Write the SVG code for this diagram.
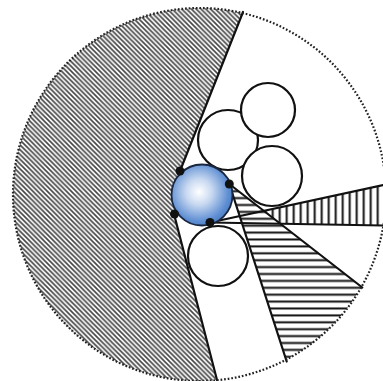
<svg xmlns="http://www.w3.org/2000/svg" width="383" height="381" viewBox="0 0 383 381">
  <defs>
    <style>
      .edge { stroke: #111; stroke-width: 2.2; fill: none; stroke-linecap: round; }
      .ball { fill: #fff; stroke: #111; stroke-width: 2.2; }
      .dot { fill: #111; }
    </style>
    <clipPath id="bigClip">
      <circle cx="199.5" cy="194.5" r="186.5"/>
    </clipPath>
    <pattern id="diag" patternUnits="userSpaceOnUse" width="4.8" height="4.8">
      <path d="M-1,-1 L5.8,5.8 M-1,3.8 L1,5.8 M3.8,-1 L5.8,1" stroke="#444" stroke-width="1.6"/>
    </pattern>
    <pattern id="horiz" patternUnits="userSpaceOnUse" x="0" y="1.5" width="10" height="6.9">
      <rect x="0" y="0" width="10" height="6.9" fill="#fff"/>
      <line x1="-1" y1="3.4" x2="11" y2="3.4" stroke="#111" stroke-width="2"/>
    </pattern>
    <pattern id="vert" patternUnits="userSpaceOnUse" x="3.2" y="0" width="7" height="10">
      <rect x="0" y="0" width="7" height="10" fill="#fff"/>
      <line x1="3.5" y1="-1" x2="3.5" y2="11" stroke="#111" stroke-width="2"/>
    </pattern>
    <radialGradient id="blueGrad" cx="0.45" cy="0.45" r="0.6">
      <stop offset="0" stop-color="#ffffff"/>
      <stop offset="0.35" stop-color="#c9d9f1"/>
      <stop offset="0.8" stop-color="#5f8fd3"/>
      <stop offset="1" stop-color="#4676c0"/>
    </radialGradient>
  </defs>

  <rect x="0" y="0" width="383" height="381" fill="#fff"/>

  <!-- left hatched region -->
  <g id="hatched-region" clip-path="url(#bigClip)">
    <polygon points="243.5,8 180,171 174,214 217,384 -5,386 -5,-5 243.5,-5" fill="url(#diag)"/>
  </g>

  <!-- vertical stripe sector -->
  <g id="vertical-sector">
    <polygon points="263.8,211.3 383,185 383,225.5 280.3,223.7" fill="url(#vert)"/>
  </g>

  <!-- horizontal stripe sector -->
  <g id="horizontal-sector" clip-path="url(#bigClip)">
    <polygon points="229.3,184 369,292.7 289.6,370.4" fill="url(#horiz)"/>
  </g>

  <!-- connectors / lines -->
  <g id="connectors">
    <line class="edge" x1="180" y1="171" x2="243" y2="12"/>
    <line class="edge" x1="174" y1="214" x2="217" y2="380"/>
    <line class="edge" x1="229.3" y1="184" x2="362.3" y2="287.5"/>
    <line class="edge" x1="229.3" y1="184" x2="286.7" y2="361.5"/>
    <line class="edge" x1="210" y1="222.5" x2="383" y2="185"/>
    <line class="edge" x1="210" y1="222.5" x2="383" y2="225.5"/>
  </g>

  <!-- white circles -->
  <g id="circle-upper-middle"><circle class="ball" cx="228" cy="140" r="30"/></g>
  <g id="circle-top-right"><circle class="ball" cx="268" cy="110" r="27"/></g>
  <g id="circle-right-middle"><circle class="ball" cx="272" cy="176" r="30"/></g>
  <g id="circle-bottom"><circle class="ball" cx="218" cy="256" r="30"/></g>

  <!-- blue central circle with contact dots -->
  <g id="center-ball">
    <circle cx="202" cy="195" r="30.5" fill="url(#blueGrad)" stroke="#1a2740" stroke-width="1.8"/>
    <circle class="dot" cx="180" cy="171" r="4.5"/>
    <circle class="dot" cx="229.3" cy="184" r="4.5"/>
    <circle class="dot" cx="174.5" cy="214" r="4.5"/>
    <circle class="dot" cx="210" cy="222.5" r="4.5"/>
  </g>

  <!-- outer dotted boundary -->
  <g id="outer-boundary">
    <circle cx="199.5" cy="194.5" r="186.5" fill="none" stroke="#222" stroke-width="2.2" stroke-dasharray="1.7 1.9"/>
  </g>
</svg>
